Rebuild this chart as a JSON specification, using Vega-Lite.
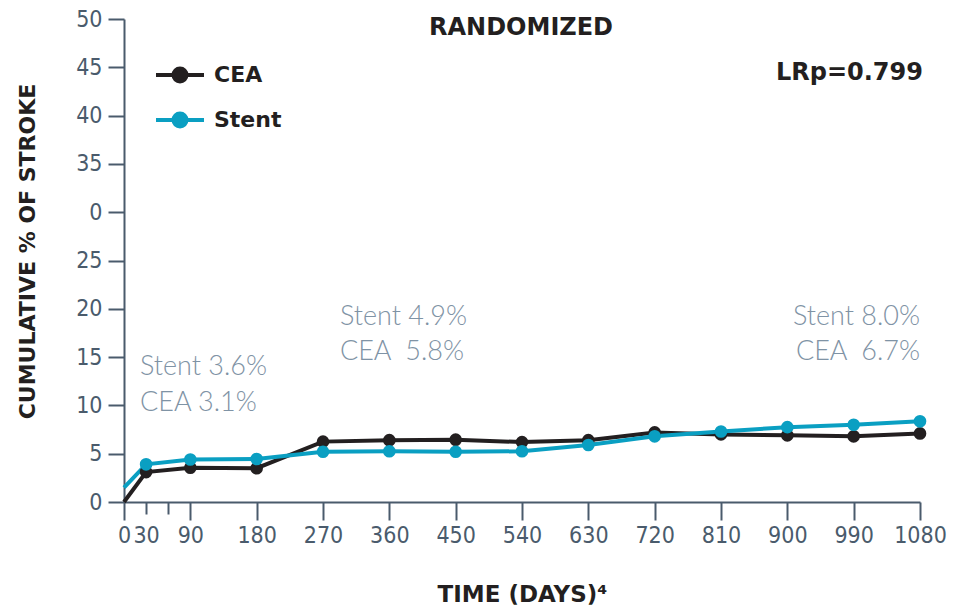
{
  "$schema": "https://vega.github.io/schema/vega-lite/v6.json",
  "width": 796,
  "height": 483,
  "autosize": {"type": "none"},
  "padding": {"left": 124, "top": 19, "right": 42, "bottom": 108},
  "background": "white",
  "config": {
    "view": {"stroke": null},
    "axis": {
      "domainColor": "#4a5b6c",
      "domainWidth": 2,
      "tickColor": "#4a5b6c",
      "tickWidth": 2,
      "labelColor": "#4a5b6c",
      "labelFont": "DejaVu Sans Condensed, Roboto",
      "labelFontSize": 23,
      "titleFont": "DejaVu Sans",
      "titleFontWeight": "bold",
      "titleColor": "#231f20",
      "grid": false
    }
  },
  "datasets": {
    "series": [
      {"day": 0, "pct": 0, "arm": "CEA"},
      {"day": 30, "pct": 3.1, "arm": "CEA"},
      {"day": 90, "pct": 3.55, "arm": "CEA"},
      {"day": 180, "pct": 3.5, "arm": "CEA"},
      {"day": 270, "pct": 6.25, "arm": "CEA"},
      {"day": 360, "pct": 6.4, "arm": "CEA"},
      {"day": 450, "pct": 6.45, "arm": "CEA"},
      {"day": 540, "pct": 6.2, "arm": "CEA"},
      {"day": 630, "pct": 6.4, "arm": "CEA"},
      {"day": 720, "pct": 7.2, "arm": "CEA"},
      {"day": 810, "pct": 7.0, "arm": "CEA"},
      {"day": 900, "pct": 6.9, "arm": "CEA"},
      {"day": 990, "pct": 6.8, "arm": "CEA"},
      {"day": 1080, "pct": 7.1, "arm": "CEA"},
      {"day": 0, "pct": 1.5, "arm": "Stent"},
      {"day": 30, "pct": 3.9, "arm": "Stent"},
      {"day": 90, "pct": 4.4, "arm": "Stent"},
      {"day": 180, "pct": 4.45, "arm": "Stent"},
      {"day": 270, "pct": 5.2, "arm": "Stent"},
      {"day": 360, "pct": 5.25, "arm": "Stent"},
      {"day": 450, "pct": 5.2, "arm": "Stent"},
      {"day": 540, "pct": 5.25, "arm": "Stent"},
      {"day": 630, "pct": 5.9, "arm": "Stent"},
      {"day": 720, "pct": 6.8, "arm": "Stent"},
      {"day": 810, "pct": 7.3, "arm": "Stent"},
      {"day": 900, "pct": 7.75, "arm": "Stent"},
      {"day": 990, "pct": 8.0, "arm": "Stent"},
      {"day": 1080, "pct": 8.35, "arm": "Stent"}
    ],
    "notes": [
      {"day": 21.7, "pct": 13.95, "label": "Stent 3.6%", "side": "left"},
      {"day": 21.7, "pct": 10.2, "label": "CEA 3.1%", "side": "left"},
      {"day": 293, "pct": 19.2, "label": "Stent 4.9%", "side": "left"},
      {"day": 293, "pct": 15.5, "label": "CEA\u00a0 5.8%", "side": "left"},
      {"day": 1080, "pct": 19.2, "label": "Stent 8.0%", "side": "right"},
      {"day": 1080, "pct": 15.5, "label": "CEA\u00a0 6.7%", "side": "right"}
    ],
    "heads": [
      {"day": 538.7, "pct": 49.1, "label": "RANDOMIZED", "side": "center"},
      {"day": 1084, "pct": 44.46, "label": "LRp=0.799", "side": "right"}
    ]
  },
  "layer": [
    {
      "data": {"name": "series"},
      "mark": {"type": "line", "strokeWidth": 4},
      "encoding": {
        "x": {
          "field": "day", "type": "quantitative",
          "scale": {"domain": [0, 1080], "nice": false, "zero": true},
          "axis": {
            "values": [0, 30, 60, 90, 180, 270, 360, 450, 540, 630, 720, 810, 900, 990, 1080],
            "format": "d",
            "labelExpr": "datum.value == 60 ? '' : datum.label",
            "labelOverlap": false,
            "labelFlush": false,
            "tickSize": {"condition": {"test": "datum.value == 30 || datum.value == 60", "value": 12}, "value": 18},
            "labelPadding": {"condition": {"test": "datum.value == 30 || datum.value == 60", "value": 10}, "value": 4},
            "title": "TIME (DAYS)⁴",
            "titleFontSize": 23,
            "titleBaseline": "middle",
            "titleY": 92
          }
        },
        "y": {
          "field": "pct", "type": "quantitative",
          "scale": {"domain": [0, 50], "nice": false},
          "axis": {
            "values": [0, 5, 10, 15, 20, 25, 30, 35, 40, 45, 50],
            "labelExpr": "datum.value == 30 ? '0' : datum.label",
            "tickSize": 16,
            "labelPadding": 6,
            "title": "CUMULATIVE % OF STROKE",
            "titleFontSize": 22,
            "titleBaseline": "middle",
            "titleAngle": -90,
            "titleX": -97,
            "titleY": 232
          }
        },
        "color": {
          "field": "arm", "type": "nominal",
          "scale": {"domain": ["CEA", "Stent"], "range": ["#231f20", "#0a9fc2"]},
          "legend": {
            "title": null,
            "orient": "none",
            "legendX": 30,
            "legendY": 30,
            "direction": "vertical",
            "padding": 0,
            "symbolType": "M-1,0H1M-0.27,0A0.27,0.27,0,1,1,0.27,0A0.27,0.27,0,1,1,-0.27,0Z",
            "symbolSize": 2304,
            "symbolStrokeWidth": 4,
            "labelFont": "DejaVu Sans",
            "labelFontSize": 22,
            "labelFontWeight": "bold",
            "labelColor": "#231f20",
            "labelOffset": 8,
            "rowPadding": 4,
            "encode": {
              "symbols": {
                "update": {
                  "fill": {"scale": "color", "field": "value"},
                  "stroke": {"scale": "color", "field": "value"},
                  "fillOpacity": {"value": 1}
                }
              }
            }
          }
        }
      }
    },
    {
      "data": {"name": "series"},
      "transform": [{"filter": "datum.day > 0"}],
      "mark": {"type": "circle", "size": 160, "opacity": 1},
      "encoding": {
        "x": {"field": "day", "type": "quantitative"},
        "y": {"field": "pct", "type": "quantitative"},
        "color": {"field": "arm", "type": "nominal"}
      }
    },
    {
      "data": {"name": "notes"},
      "transform": [{"filter": "datum.side == 'left'"}],
      "mark": {"type": "text", "align": "left", "baseline": "middle", "font": "Lato", "fontWeight": 300, "fontSize": 27, "color": "#7f93a5"},
      "encoding": {
        "x": {"field": "day", "type": "quantitative"},
        "y": {"field": "pct", "type": "quantitative"},
        "text": {"field": "label"}
      }
    },
    {
      "data": {"name": "notes"},
      "transform": [{"filter": "datum.side == 'right'"}],
      "mark": {"type": "text", "align": "right", "baseline": "middle", "font": "Lato", "fontWeight": 300, "fontSize": 27, "color": "#7f93a5"},
      "encoding": {
        "x": {"field": "day", "type": "quantitative"},
        "y": {"field": "pct", "type": "quantitative"},
        "text": {"field": "label"}
      }
    },
    {
      "data": {"name": "heads"},
      "transform": [{"filter": "datum.side == 'center'"}],
      "mark": {"type": "text", "align": "center", "baseline": "middle", "font": "DejaVu Sans", "fontWeight": "bold", "fontSize": 24, "color": "#231f20"},
      "encoding": {
        "x": {"field": "day", "type": "quantitative"},
        "y": {"field": "pct", "type": "quantitative"},
        "text": {"field": "label"}
      }
    },
    {
      "data": {"name": "heads"},
      "transform": [{"filter": "datum.side == 'right'"}],
      "mark": {"type": "text", "align": "right", "baseline": "middle", "font": "DejaVu Sans", "fontWeight": "bold", "fontSize": 24, "color": "#231f20"},
      "encoding": {
        "x": {"field": "day", "type": "quantitative"},
        "y": {"field": "pct", "type": "quantitative"},
        "text": {"field": "label"}
      }
    }
  ]
}
